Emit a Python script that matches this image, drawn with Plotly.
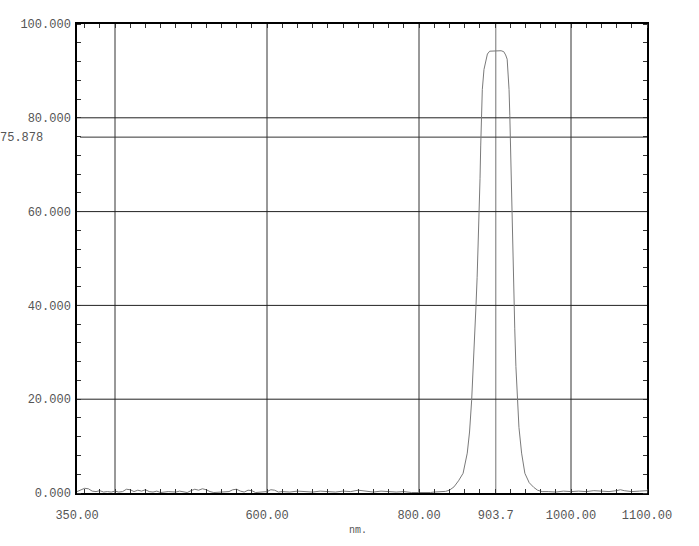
import plotly.graph_objects as go

# ---------------- DATA ----------------
wavelength = [350, 355, 360, 365, 370, 375, 380, 385, 390, 395, 400, 405, 410, 415, 420, 425,
              430, 435, 440, 445, 450, 455, 460, 470, 480, 485, 490, 495, 500, 505, 510, 515,
              520, 525, 530, 540, 550, 555, 560, 565, 570, 575, 580, 585, 590, 600, 605, 610,
              615, 620, 630, 640, 650, 660, 670, 680, 690, 700, 710, 720, 725, 730, 740, 750,
              760, 770, 780, 790, 800, 810, 815, 820, 825, 830, 835, 840, 846, 852, 858, 863.5,
              866.5, 869.3, 872, 873.5, 875, 876.5, 878, 879.3, 880.3, 881.2, 882, 883.3, 885.5,
              887.7, 890, 893, 900, 908, 911.5, 914, 916, 917.5, 918.5, 919.5, 920.5, 921.3,
              922, 923.2, 924.8, 926, 927.5, 929.2, 931.5, 935, 939.3, 945, 951, 956, 962,
              970, 980, 990, 1000, 1010, 1020, 1030, 1040, 1050, 1060, 1065, 1070, 1080, 1090, 1100]
transmit = [0.3, 0.6, 1.0, 0.9, 0.4, 0.3, 0.5, 0.2, 0.3, 0.2, 0.4, 0.2, 0.3, 0.8, 0.7, 0.3,
            0.6, 0.4, 0.7, 0.3, 0.2, 0.4, 0.1, 0.3, 0.2, 0.4, 0.3, 0.1, 0.5, 0.8, 0.6, 0.9,
            0.7, 0.3, 0.1, 0.2, 0.3, 0.7, 0.8, 0.4, 0.2, 0.6, 0.5, 0.1, 0.2, 0.3, 0.7, 0.6,
            0.2, 0.3, 0.2, 0.4, 0.3, 0.2, 0.4, 0.3, 0.2, 0.4, 0.3, 0.6, 0.5, 0.3, 0.2, 0.4,
            0.3, 0.2, 0.3, 0.1, 0.1, 0.0, 0.1, 0.2, 0.2, 0.25, 0.35, 0.6, 1.3, 2.6, 4.2, 8.5,
            13, 19.8, 28, 35, 40, 46, 53, 60, 67, 74, 80, 86, 90.3,
            92.3, 93.6, 94.2, 94.3, 94.3, 94.1, 93.4, 92.5, 89.5, 86, 80.5, 73, 67,
            60, 52, 40, 35, 27, 19.8, 14, 8.5, 4.2, 2.2, 1.2, 0.6, 0.3,
            0.3, 0.2, 0.4, 0.3, 0.4, 0.3, 0.5, 0.4, 0.3, 0.5, 0.7, 0.5, 0.3, 0.4, 0.5]

x_tick_vals = [350, 600, 800, 901, 1000, 1100]
x_tick_text = ['350.00', '600.00', '800.00', '903.7', '1000.00', '1100.00']
x_grid = [400, 600, 800, 1000]
peak_x = 901
y_tick_vals = [0, 20, 40, 60, 80, 100]
y_tick_text = ['0.000', '20.000', '40.000', '60.000', '80.000', '100.000']
y_grid = [20, 40, 60, 80]
level_y = 75.878
level_text = '75.878'
x_unit = 'nm.'

font_main = dict(family='Liberation Mono', size=12, color='#555555')

# ---------------- FIGURE ----------------
fig = go.Figure()
fig.add_trace(go.Scatter(x=wavelength, y=transmit, mode='lines',
                         line=dict(color='#7a7a7a', width=1), hoverinfo='skip'))

for gx in x_grid:
    fig.add_shape(type='line', x0=gx, x1=gx, y0=0, y1=100, xref='x', yref='y',
                  line=dict(color='#333333', width=1), layer='below')
fig.add_shape(type='line', x0=peak_x, x1=peak_x, y0=0, y1=100, xref='x', yref='y',
              line=dict(color='#8a8a8a', width=1.2), layer='below')
for gy in y_grid:
    fig.add_shape(type='line', x0=350, x1=1100, y0=gy, y1=gy, xref='x', yref='y',
                  line=dict(color='#222222', width=1), layer='below')
fig.add_shape(type='line', x0=354, x1=1100, y0=level_y, y1=level_y, xref='x', yref='y',
              line=dict(color='#333333', width=1), layer='below')

fig.add_annotation(x=0, xref='paper', xanchor='right', xshift=-32, y=level_y, yshift=-1,
                   yref='y', text=level_text, showarrow=False, font=font_main)
fig.add_annotation(x=(358 - 77) / 570, xref='paper', y=-(538 - 493) / 469, yref='paper',
                   text=x_unit, showarrow=False,
                   font=dict(family='Liberation Mono', size=10, color='#555555'))

fig.update_layout(
    width=699, height=546,
    margin=dict(l=77, r=52, t=24, b=53),
    paper_bgcolor='white', plot_bgcolor='white',
    showlegend=False,
    font=font_main,
    xaxis=dict(
        range=[350, 1100], showgrid=False, zeroline=False, automargin=False,
        tickmode='array', tickvals=x_tick_vals, ticktext=x_tick_text,
        ticks='', ticklabelstandoff=10,
        showline=True, linecolor='black', linewidth=1.5, mirror='allticks',
        minor=dict(tickmode='linear', tick0=0, dtick=20, ticks='inside', ticklen=4,
                   tickcolor='#333333', showgrid=False),
    ),
    yaxis=dict(
        range=[0, 100], showgrid=False, zeroline=False, automargin=False,
        tickmode='array', tickvals=y_tick_vals, ticktext=y_tick_text,
        ticks='', ticklabelstandoff=2,
        showline=True, linecolor='black', linewidth=1.5, mirror='allticks',
        minor=dict(tickmode='linear', tick0=0, dtick=4, ticks='inside', ticklen=4,
                   tickcolor='#333333', showgrid=False),
    ),
)

# drop the browser's default page margin so the figure sits at the top-left corner
fig.write_html("out.html", config={'displayModeBar': False},
               post_script="document.body.style.margin='0';")
